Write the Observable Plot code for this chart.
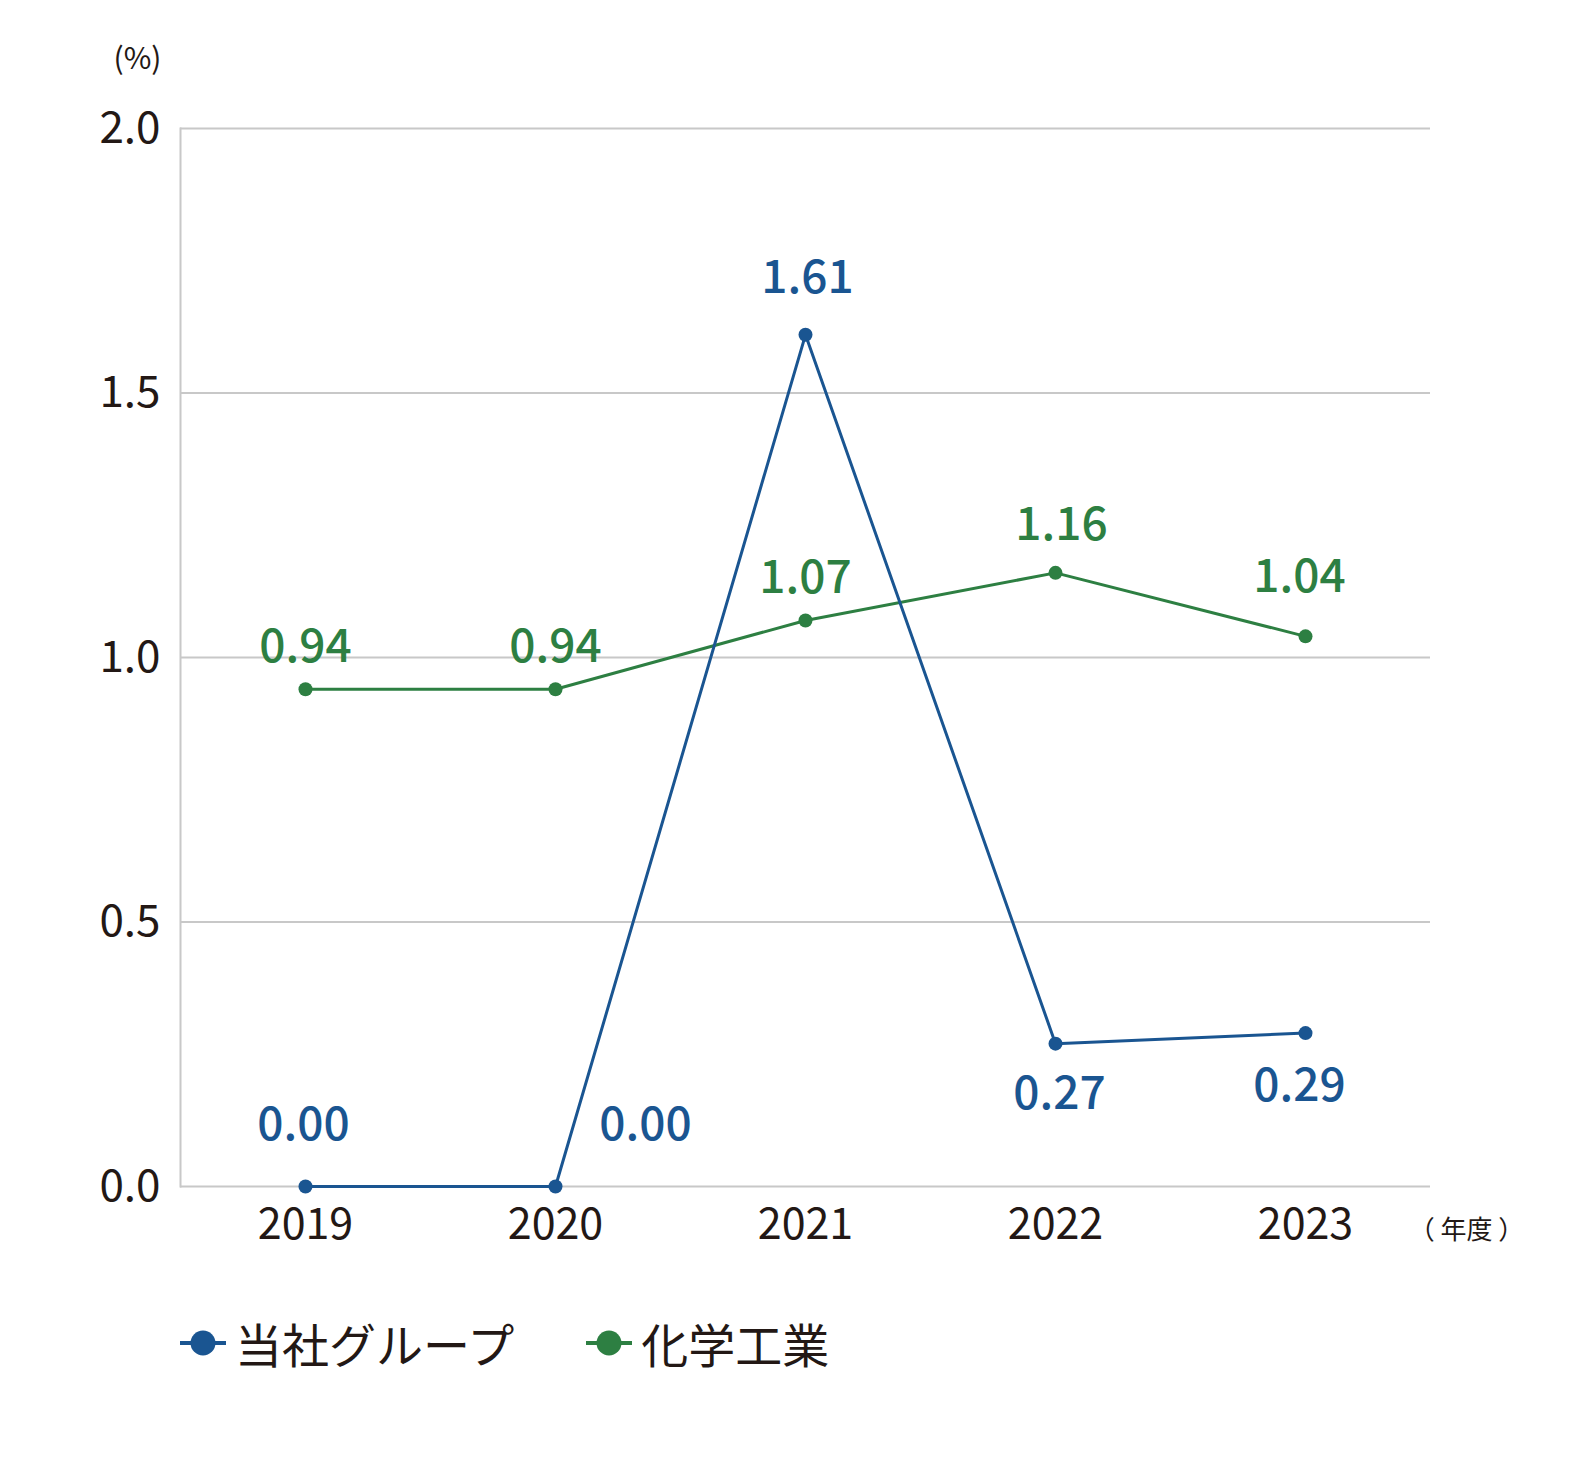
<!DOCTYPE html>
<html>
<head>
<meta charset="utf-8">
<script src="https://cdn.jsdelivr.net/npm/d3@7"></script>
<script src="https://cdn.jsdelivr.net/npm/@observablehq/plot@0.6"></script>
<style>
  html, body { margin: 0; padding: 0; background: #fff; }
  body { width: 1590px; height: 1460px; font-family: "Noto Sans CJK JP", "Noto Sans", sans-serif; color: #231815; }
  #chart svg { display: block; }
  .legend { display: flex; align-items: center; margin-left: 180px; margin-top: 25px; font-size: 47px; line-height: 56px; }
  .item { display: flex; align-items: center; margin-right: 72px; }
  .item svg { display: block; margin-right: 9px; }
</style>
</head>
<body>
<div id="chart"></div>
<div class="legend" id="legend"></div>
<script>
const years = ["2019", "2020", "2021", "2022", "2023"];
const companyValues = [0.00, 0.00, 1.61, 0.27, 0.29];
const industryValues = [0.94, 0.94, 1.07, 1.16, 1.04];
const seriesNames = ["当社グループ", "化学工業"];
const seriesColors = ["#1a5591", "#2d7f42"];
const yTicks = [0, 0.5, 1.0, 1.5, 2.0];

const company = years.map((year, i) => ({year, value: companyValues[i], series: seriesNames[0]}));
const industry = years.map((year, i) => ({year, value: industryValues[i], series: seriesNames[1]}));

const pick = (arr, ys) => arr.filter(d => ys.includes(d.year));

const fmt = d3.format(".2f");
const font = "Noto Sans CJK JP";
const labelFont = "Noto Sans CJK JP Medium, Noto Sans CJK JP";

function labels(data, color, dx, dy) {
  return Plot.text(data, {x: "year", y: "value", text: d => fmt(d.value), dx, dy, lineAnchor: "middle", fill: color, fontSize: 46, fontWeight: 500, fontFamily: labelFont});
}

const plot = Plot.plot({
  width: 1590,
  height: 1290,
  marginTop: 128,
  marginBottom: 104,
  marginLeft: 180,
  marginRight: 160,
  style: {fontFamily: font, color: "#231815", background: "#fff"},
  x: {type: "point", domain: years, padding: 0.5},
  y: {domain: [0, 2]},
  marks: [
    Plot.gridY(yTicks, {stroke: "#c8c8c8", strokeOpacity: 1, strokeWidth: 2}),
    Plot.frame({anchor: "left", stroke: "#c8c8c8", strokeWidth: 2}),
    Plot.axisY(yTicks, {tickSize: 0, tickPadding: 20, tickFormat: d3.format(".1f"), fontSize: 44, fill: "#231815", label: null}),
    Plot.axisX({tickSize: 0, tickPadding: 22, fontSize: 43, fill: "#231815", label: null}),
    Plot.text(["(%)"], {frameAnchor: "top-left", textAnchor: "middle", lineAnchor: "middle", dx: -43, dy: -69, fontSize: 30, fill: "#231815"}),
    Plot.text(["（ 年度 ）"], {frameAnchor: "bottom-right", textAnchor: "middle", lineAnchor: "middle", dx: 36, dy: 44, fontSize: 26, fill: "#231815"}),
    Plot.line(industry, {x: "year", y: "value", stroke: seriesColors[1], strokeWidth: 3}),
    Plot.line(company, {x: "year", y: "value", stroke: seriesColors[0], strokeWidth: 3}),
    Plot.dot(industry, {x: "year", y: "value", fill: seriesColors[1], r: 7}),
    Plot.dot(company, {x: "year", y: "value", fill: seriesColors[0], r: 7}),
    labels(pick(industry, ["2019", "2020", "2021"]), seriesColors[1], 0, -42),
    labels(pick(industry, ["2022"]), seriesColors[1], 6, -48),
    labels(pick(industry, ["2023"]), seriesColors[1], -6, -59),
    labels(pick(company, ["2019"]), seriesColors[0], -2, -61),
    labels(pick(company, ["2021"]), seriesColors[0], 2, -57),
    labels(pick(company, ["2020"]), seriesColors[0], 90, -61),
    labels(pick(company, ["2022"]), seriesColors[0], 4, 51),
    labels(pick(company, ["2023"]), seriesColors[0], -6, 53)
  ]
});
document.getElementById("chart").appendChild(plot);

const legend = document.getElementById("legend");
seriesNames.forEach((name, i) => {
  const item = document.createElement("div");
  item.className = "item";
  item.innerHTML = `<svg width="46" height="26"><line x1="0" y1="13" x2="46" y2="13" stroke="${seriesColors[i]}" stroke-width="4"/><circle cx="23" cy="13" r="12.5" fill="${seriesColors[i]}"/></svg><span>${name}</span>`;
  legend.appendChild(item);
});
</script>
</body>
</html>
